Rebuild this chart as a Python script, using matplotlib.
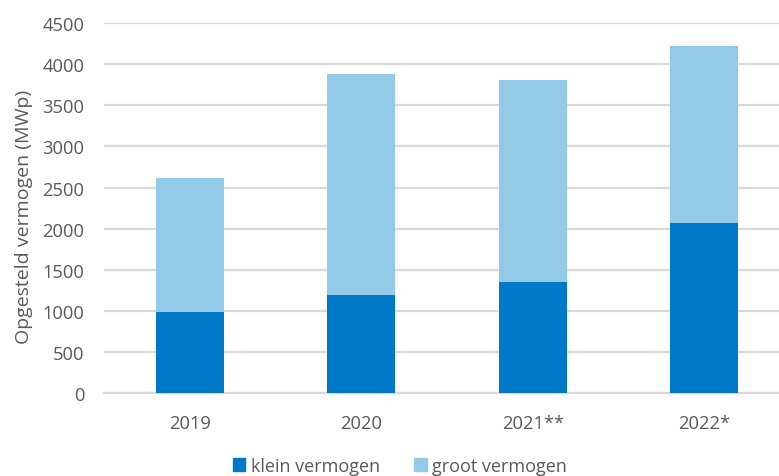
import numpy as np
import matplotlib.pyplot as plt
from matplotlib.patches import Patch

# Installed PV capacity per year (MWp)
years = ['2019', '2020', '2021**', '2022*']
klein = [990, 1200, 1350, 2065]
groot_total = [2615, 3880, 3805, 4225]
groot = [t - k for t, k in zip(groot_total, klein)]

DARK = '#0079C8'
LIGHT = '#93CAE8'
GRID = '#D9D9D9'
TEXT = '#595959'

plt.rcParams['font.family'] = ['Open Sans', 'DejaVu Sans']

fig = plt.figure(figsize=(7.79, 4.77), dpi=100)
ax = fig.add_axes([104 / 779, 82.7 / 477, 686 / 779, 370.3 / 477])

x = np.arange(len(years))
w = 0.397
ax.bar(x, klein, width=w, color=DARK, zorder=3)
ax.bar(x, groot, width=w, bottom=klein, color=LIGHT, zorder=3)

ax.set_xlim(-0.5, len(years) - 0.5)
ax.set_ylim(0, 4500)
ax.set_yticks(np.arange(0, 4501, 500))
ax.set_xticks(x)
ax.set_xticklabels(years)

ax.grid(axis='y', color=GRID, linewidth=1.6, zorder=0)
ax.set_axisbelow(True)
for s in ax.spines.values():
    s.set_visible(False)
ax.axhline(0, color=GRID, linewidth=1.6, zorder=1, clip_on=False)

ax.tick_params(axis='both', length=0, labelsize=13.2, labelcolor=TEXT)
ax.tick_params(axis='y', pad=14)
ax.tick_params(axis='x', pad=15)
ax.set_ylabel('Opgesteld vermogen (MWp)', fontsize=14, color=TEXT)
ax.yaxis.set_label_coords(-0.103, 0.48)

handles = [Patch(color=DARK, label='klein vermogen'),
           Patch(color=LIGHT, label='groot vermogen')]
fig.legend(handles=handles, loc='center', bbox_to_anchor=(400 / 779, 1 - 467 / 477),
           ncol=2, frameon=False, fontsize=13, labelcolor=TEXT,
           handlelength=0.7, handleheight=0.7, handletextpad=0.3, columnspacing=1.9)

fig.savefig('out.png', dpi=100)
plt.close(fig)
